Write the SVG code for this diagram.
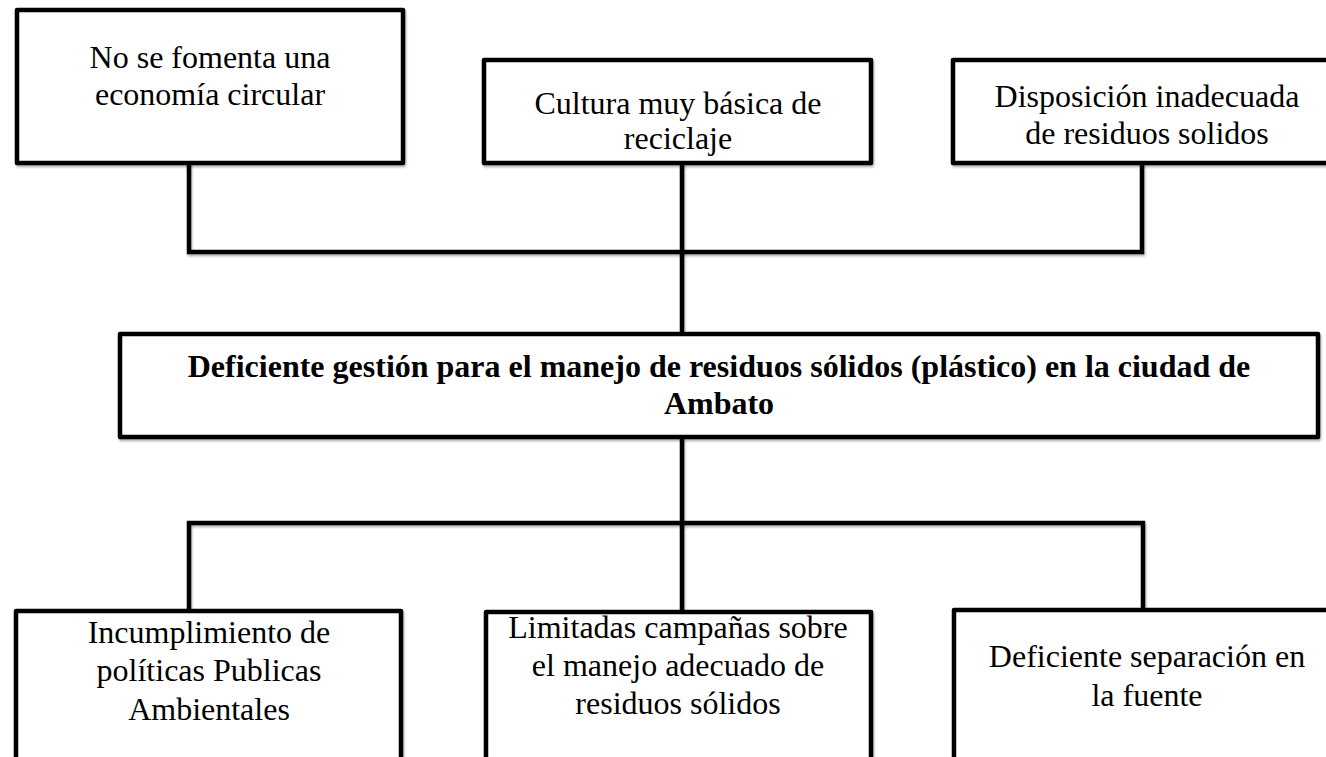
<svg xmlns="http://www.w3.org/2000/svg" width="1326" height="757" viewBox="0 0 1326 757">
<defs>
<filter id="sh" filterUnits="userSpaceOnUse" x="0" y="0" width="1326" height="757">
<feDropShadow dx="1" dy="2" stdDeviation="1.2" flood-color="#000" flood-opacity="0.3"/>
</filter>
<style>
.box{fill:#fff;stroke:#000;stroke-width:4.5;stroke-linejoin:round;filter:url(#sh)}
.con{fill:none;stroke:#000;stroke-width:4.5;stroke-linejoin:miter;filter:url(#sh)}
text{font-family:"Liberation Serif","Times New Roman",serif;font-size:32px;fill:#000;text-anchor:middle}
.b{font-weight:bold}
</style>
</defs>
<rect width="1326" height="757" fill="#fff"/>
<g id="connectors">
<path class="con" d="M189 163 V252 H1142 V163"/>
<path class="con" d="M682 163 V334"/>
<path class="con" d="M682 437 V612"/>
<path class="con" d="M189 611 V523 H1143 V610"/>
</g>
<g id="cause1">
<rect class="box" x="17" y="10" width="386" height="153"/>
<text x="210" y="68">No se fomenta una</text>
<text x="210" y="105">economía circular</text>
</g>
<g id="cause2">
<rect class="box" x="484" y="60" width="387" height="103"/>
<text x="678" y="114">Cultura muy básica de</text>
<text x="678" y="149">reciclaje</text>
</g>
<g id="cause3">
<rect class="box" x="953" y="60" width="390" height="103"/>
<text x="1147" y="107">Disposición inadecuada</text>
<text x="1147" y="144">de residuos solidos</text>
</g>
<g id="problem">
<rect class="box" x="120" y="334" width="1198" height="103"/>
<text class="b" x="719" y="377">Deficiente gestión para el manejo de residuos sólidos (plástico) en la ciudad de</text>
<text class="b" x="719" y="414">Ambato</text>
</g>
<g id="effect1">
<rect class="box" x="16" y="611" width="385" height="200"/>
<text x="209" y="643">Incumplimiento de</text>
<text x="209" y="681">políticas Publicas</text>
<text x="209" y="720">Ambientales</text>
</g>
<g id="effect2">
<rect class="box" x="486" y="612" width="385" height="200"/>
<text x="678" y="638">Limitadas campañas sobre</text>
<text x="678" y="676">el manejo adecuado de</text>
<text x="678" y="714">residuos sólidos</text>
</g>
<g id="effect3">
<rect class="box" x="954" y="610" width="390" height="200"/>
<text x="1147" y="667">Deficiente separación en</text>
<text x="1147" y="706">la fuente</text>
</g>
</svg>
